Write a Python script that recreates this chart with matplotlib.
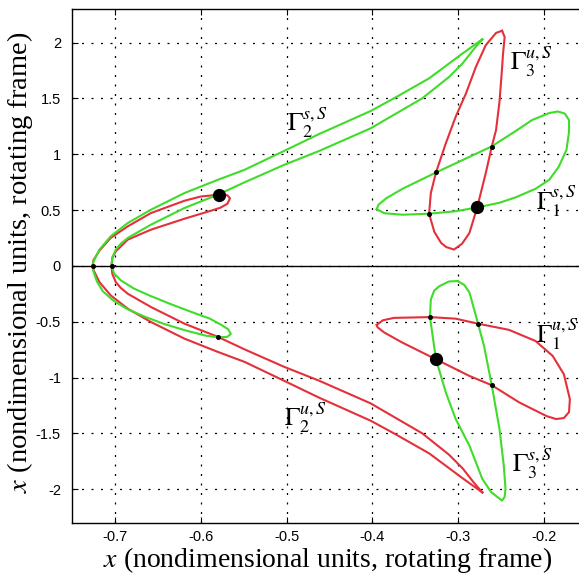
import matplotlib
matplotlib.use("Agg")
import matplotlib.pyplot as plt

plt.rcParams['axes.unicode_minus'] = False
plt.rcParams['mathtext.fontset'] = 'stix'

# stable manifold of the second branch (green) and its unstable twin (red)
gamma2_s_x = [-0.272, -0.295, -0.334, -0.375, -0.402, -0.462, -0.503, -0.549, -0.580, -0.619,
              -0.658, -0.685, -0.705, -0.718, -0.725, -0.726, -0.725, -0.721, -0.714, -0.702,
              -0.686, -0.666, -0.643, -0.616, -0.593, -0.579, -0.569, -0.565, -0.568, -0.576,
              -0.590, -0.608, -0.634, -0.660, -0.678, -0.693, -0.701, -0.704, -0.703, -0.699,
              -0.693, -0.685, -0.658, -0.619, -0.579, -0.549, -0.503, -0.462, -0.402, -0.342,
              -0.311, -0.295, -0.282, -0.272]
gamma2_s_y = [2.029, 1.902, 1.679, 1.5, 1.387, 1.181, 1.029, 0.860, 0.771, 0.652,
              0.503, 0.384, 0.264, 0.146, 0.038, 0.0, -0.051, -0.140, -0.229, -0.310,
              -0.386, -0.453, -0.520, -0.582, -0.627, -0.640, -0.636, -0.609, -0.569, -0.529,
              -0.471, -0.421, -0.346, -0.265, -0.203, -0.131, -0.069, 0.0, 0.074, 0.146,
              0.199, 0.25, 0.369, 0.518, 0.641, 0.748, 0.904, 1.029, 1.232, 1.5,
              1.690, 1.813, 1.940, 2.029]

gamma2_u_x = [-0.272, -0.295, -0.334, -0.375, -0.402, -0.462, -0.503, -0.549, -0.580, -0.619,
              -0.658, -0.685, -0.705, -0.718, -0.725, -0.726, -0.725, -0.718, -0.705, -0.685,
              -0.658, -0.619, -0.600, -0.579, -0.569, -0.566, -0.569, -0.577, -0.588, -0.619,
              -0.658, -0.685, -0.699, -0.703, -0.704, -0.703, -0.699, -0.693, -0.685, -0.658,
              -0.619, -0.580, -0.549, -0.503, -0.462, -0.402, -0.342, -0.311, -0.295, -0.282,
              -0.272]
gamma2_u_y = [-2.029, -1.902, -1.679, -1.5, -1.387, -1.181, -1.029, -0.860, -0.771, -0.652,
              -0.503, -0.384, -0.264, -0.146, -0.038, 0.0, 0.051, 0.137, 0.25, 0.354,
              0.473, 0.583, 0.621, 0.637, 0.632, 0.605, 0.556, 0.521, 0.494, 0.422,
              0.324, 0.235, 0.130, 0.074, 0.0, -0.074, -0.146, -0.199, -0.25, -0.369,
              -0.518, -0.636, -0.748, -0.904, -1.029, -1.232, -1.5, -1.690, -1.813, -1.940,
              -2.029]

gamma1_s_x = [-0.395, -0.386, -0.365, -0.334, -0.303, -0.278, -0.252, -0.233, -0.210, -0.194,
              -0.183, -0.174, -0.171, -0.171, -0.176, -0.184, -0.194, -0.214, -0.233, -0.261,
              -0.287, -0.326, -0.365, -0.384, -0.393, -0.395]
gamma1_s_y = [0.507, 0.471, 0.458, 0.467, 0.489, 0.523, 0.565, 0.614, 0.690, 0.771,
              0.887, 1.038, 1.199, 1.306, 1.364, 1.382, 1.369, 1.306, 1.208, 1.070,
              0.976, 0.836, 0.690, 0.605, 0.547, 0.507]

gamma1_u_x = [-0.395, -0.388, -0.375, -0.333, -0.303, -0.277, -0.241, -0.210, -0.190, -0.177,
              -0.170, -0.171, -0.177, -0.186, -0.197, -0.229, -0.261, -0.287, -0.326, -0.365,
              -0.386, -0.394, -0.395]
gamma1_u_y = [-0.529, -0.488, -0.466, -0.459, -0.473, -0.518, -0.573, -0.673, -0.807, -0.971,
              -1.194, -1.310, -1.363, -1.372, -1.346, -1.223, -1.069, -0.986, -0.837, -0.688,
              -0.598, -0.551, -0.529]

gamma3_u_x = [-0.249, -0.246, -0.248, -0.249, -0.252, -0.256, -0.261, -0.268, -0.278, -0.287,
              -0.2955, -0.305, -0.314, -0.320, -0.328, -0.334, -0.332, -0.326, -0.3145, -0.303,
              -0.291, -0.2795, -0.268, -0.256, -0.249]
gamma3_u_y = [2.105, 2.050, 1.887, 1.770, 1.470, 1.217, 1.068, 0.830, 0.523, 0.295,
              0.199, 0.146, 0.168, 0.205, 0.306, 0.467, 0.652, 0.836, 1.098, 1.336,
              1.545, 1.782, 1.976, 2.086, 2.105]

gamma3_s_x = [-0.301, -0.293, -0.287, -0.277, -0.270, -0.261, -0.252, -0.247, -0.245, -0.246,
              -0.249, -0.254, -0.262, -0.272, -0.287, -0.303, -0.3145, -0.326, -0.333, -0.332,
              -0.328, -0.322, -0.311, -0.301]
gamma3_s_y = [-0.136, -0.171, -0.238, -0.518, -0.718, -1.069, -1.462, -1.789, -1.997, -2.069,
              -2.102, -2.073, -2.024, -1.908, -1.611, -1.372, -1.134, -0.837, -0.459, -0.301,
              -0.221, -0.182, -0.140, -0.136]

# intersection points
big_x = [-0.579, -0.278, -0.326]
big_y = [0.637, 0.523, -0.837]
small_x = [-0.726, -0.704, -0.580, -0.261, -0.326, -0.334, -0.333, -0.277, -0.261]
small_y = [0.0, 0.0, -0.634, 1.068, 0.836, 0.467, -0.459, -0.518, -1.069]

labels = [r'$\Gamma_2^{s,S}$', r'$\Gamma_3^{u,S}$', r'$\Gamma_1^{s,S}$',
          r'$\Gamma_1^{u,S}$', r'$\Gamma_2^{u,S}$', r'$\Gamma_3^{s,S}$']
label_x = [-0.499, -0.240, -0.2095, -0.2095, -0.503, -0.237]
label_y = [1.206, 1.753, 0.503, -0.685, -1.431, -1.845]

xticks = [-0.7, -0.6, -0.5, -0.4, -0.3, -0.2]
yticks = [-2, -1.5, -1, -0.5, 0, 0.5, 1, 1.5, 2]

red = '#e4303a'
green = '#3fdc2a'

fig = plt.figure(figsize=(5.79, 5.74), dpi=100)
ax = fig.add_axes([0.1244, 0.0894, 0.8895, 0.8949])

ax.grid(True, linestyle=(0, (1.6, 6)), color='k', linewidth=0.9)
ax.axhline(0, color='k', linewidth=1.0, zorder=1.5)

for xs, ys in [(gamma2_u_x, gamma2_u_y), (gamma1_u_x, gamma1_u_y), (gamma3_u_x, gamma3_u_y)]:
    ax.plot(xs, ys, color=red, linewidth=1.5, zorder=2)
for xs, ys in [(gamma2_s_x, gamma2_s_y), (gamma1_s_x, gamma1_s_y), (gamma3_s_x, gamma3_s_y)]:
    ax.plot(xs, ys, color=green, linewidth=1.5, zorder=3)

ax.plot(small_x, small_y, 'o', color='k', markersize=2.6, zorder=4)
ax.plot(big_x, big_y, 'o', color='k', markersize=8.5, zorder=5)

for txt, tx, ty in zip(labels, label_x, label_y):
    ax.text(tx, ty, txt, fontsize=18.5, ha='left', va='baseline', zorder=6)

ax.set_xlim(-0.75, -0.15)
ax.set_ylim(-2.3, 2.3)
ax.set_xticks(xticks)
ax.set_xticklabels(['%g' % v for v in xticks])
ax.set_yticks(yticks)
ax.set_yticklabels(['%g' % v for v in yticks])
ax.tick_params(direction='in', top=True, right=True, length=4, width=0.8,
               labelsize=10.5)
ax.tick_params(axis='x', pad=5.5)
ax.tick_params(axis='y', pad=8)
for lab in ax.get_xticklabels() + ax.get_yticklabels():
    lab.set_family('Liberation Sans')
for sp in ax.spines.values():
    sp.set_linewidth(1.0)

label_text = r'$x$ (nondimensional units, rotating frame)'
ax.set_xlabel(label_text, fontsize=20, family='Liberation Serif')
ax.set_ylabel(label_text, fontsize=20.5, family='Liberation Serif')
ax.xaxis.set_label_coords(0.497, -0.044)
ax.yaxis.set_label_coords(-0.072, 0.5075)

fig.savefig('out.png', dpi=100)
